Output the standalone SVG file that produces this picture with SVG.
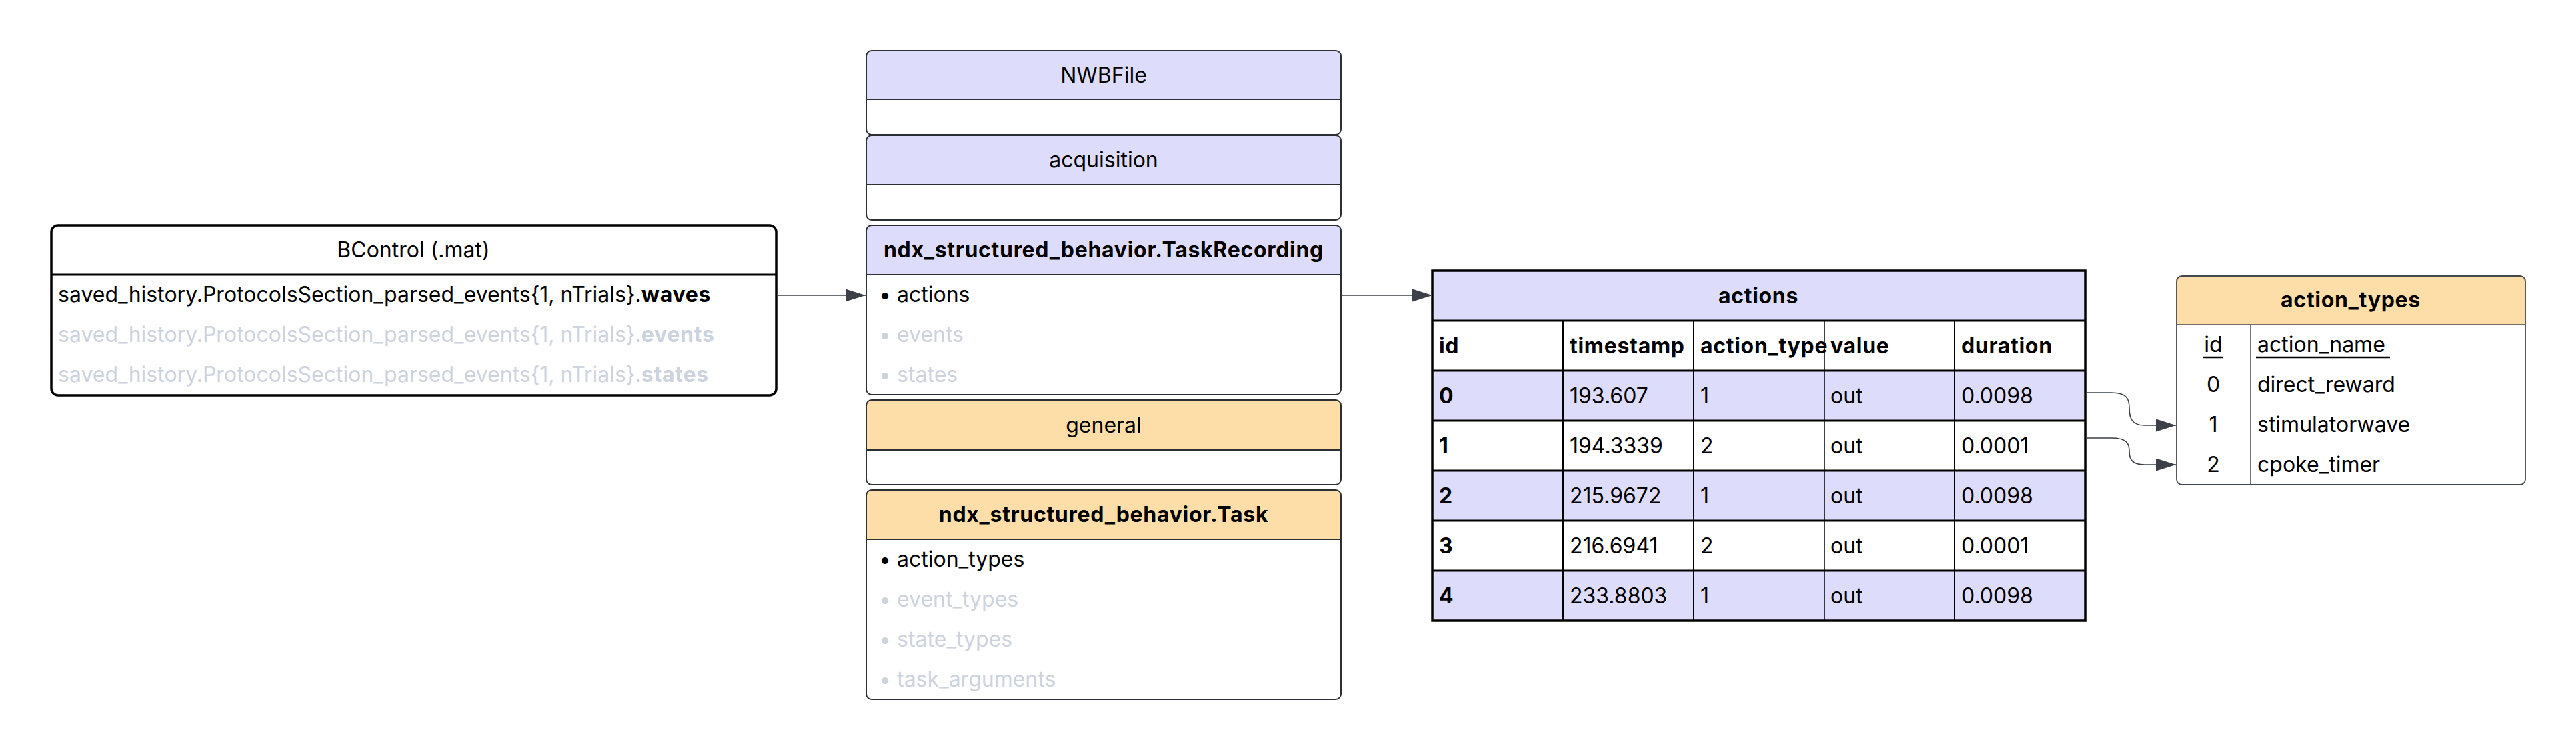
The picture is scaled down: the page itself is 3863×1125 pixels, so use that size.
<svg xmlns="http://www.w3.org/2000/svg" width="3863" height="1125" viewBox="0 0 3863 1125">
<style>
text{font-family:Inter,"Noto Sans","Liberation Sans",sans-serif;font-size:32px;fill:#000}
.c{text-anchor:middle}
.b{font-weight:bold;letter-spacing:0.7px}
.g{fill:#CDD3DD}
.box{stroke:#2c2f34;stroke-width:2;fill:#fff}
.hl{fill:#DDDDFB}
.ho{fill:#FDDEA8}
.sep{stroke:#2c2f34;stroke-width:2}
.tb{stroke:#000;stroke-width:2}
.conn{fill:none;stroke:#3b4049;stroke-width:1.6}
</style>
<defs>
<marker id="arr" viewBox="0 0 30 19" refX="30" refY="9.5" markerWidth="30" markerHeight="19" markerUnits="userSpaceOnUse" orient="auto">
<path d="M0,0 L30,9.5 L0,19 z" fill="#3b4049"/>
</marker>
</defs>
<rect width="3863" height="1125" fill="#fff"/>

<g id="bcontrol">
<rect x="77" y="338" width="1087" height="255" rx="10" fill="#fff" stroke="#000" stroke-width="3.5"/>
<line x1="77" y1="412" x2="1164" y2="412" stroke="#000" stroke-width="3"/>
<text x="620" y="386" class="c">BControl (.mat)</text>
<text x="87" y="453">saved_history.ProtocolsSection_parsed_events{1, nTrials}.<tspan class="b">waves</tspan></text>
<text x="87" y="513" class="g">saved_history.ProtocolsSection_parsed_events{1, nTrials}.<tspan class="b">events</tspan></text>
<text x="87" y="573" class="g">saved_history.ProtocolsSection_parsed_events{1, nTrials}.<tspan class="b">states</tspan></text>
</g>

<g id="nwbfile">
<path d="M1299,149 V84 Q1299,76 1307,76 H2003 Q2011,76 2011,84 V149 Z" class="hl"/>
<rect x="1299" y="76" width="712" height="126" rx="8" class="box" style="fill:none"/>
<line x1="1299" y1="149" x2="2011" y2="149" class="sep"/>
<text x="1655" y="124" class="c">NWBFile</text>
</g>

<g id="acquisition">
<path d="M1299,277 V211 Q1299,203 1307,203 H2003 Q2011,203 2011,211 V277 Z" class="hl"/>
<rect x="1299" y="203" width="712" height="127" rx="8" class="box" style="fill:none"/>
<line x1="1299" y1="277" x2="2011" y2="277" class="sep" stroke-width="1.5"/>
<text x="1655" y="251" class="c">acquisition</text>
</g>

<g id="taskrecording">
<path d="M1299,412 V346 Q1299,338 1307,338 H2003 Q2011,338 2011,346 V412 Z" class="hl"/>
<rect x="1299" y="338" width="712" height="254" rx="8" class="box" style="fill:none"/>
<line x1="1299" y1="412" x2="2011" y2="412" class="sep" stroke-width="1.5"/>
<text x="1655" y="386" class="c b">ndx_structured_behavior.TaskRecording</text>
<text x="1318" y="453">• actions</text>
<text x="1318" y="513" class="g">• events</text>
<text x="1318" y="573" class="g">• states</text>
</g>

<g id="general">
<path d="M1299,675 V608 Q1299,600 1307,600 H2003 Q2011,600 2011,608 V675 Z" class="ho"/>
<rect x="1299" y="600" width="712" height="127" rx="8" class="box" style="fill:none"/>
<line x1="1299" y1="675" x2="2011" y2="675" class="sep"/>
<text x="1655" y="649" class="c">general</text>
</g>

<g id="task">
<path d="M1299,809 V743 Q1299,735 1307,735 H2003 Q2011,735 2011,743 V809 Z" class="ho"/>
<rect x="1299" y="735" width="712" height="314" rx="8" class="box" style="fill:none"/>
<line x1="1299" y1="809" x2="2011" y2="809" class="sep"/>
<text x="1655" y="783" class="c b">ndx_structured_behavior.Task</text>
<text x="1318" y="850">• action_types</text>
<text x="1318" y="910" class="g">• event_types</text>
<text x="1318" y="970" class="g">• state_types</text>
<text x="1318" y="1030" class="g">• task_arguments</text>
</g>

<g id="actions">
<rect x="2148" y="406" width="979" height="75" class="hl"/>
<rect x="2148" y="556" width="979" height="75" class="hl"/>
<rect x="2148" y="706" width="979" height="75" class="hl"/>
<rect x="2148" y="856" width="979" height="75" class="hl"/>
<g class="tb">
<line x1="2148" y1="481" x2="3127" y2="481" stroke-width="3"/>
<line x1="2148" y1="556" x2="3127" y2="556" stroke-width="3"/>
<line x1="2148" y1="631" x2="3127" y2="631" stroke-width="3"/>
<line x1="2148" y1="706" x2="3127" y2="706" stroke-width="3"/>
<line x1="2148" y1="781" x2="3127" y2="781" stroke-width="3"/>
<line x1="2148" y1="856" x2="3127" y2="856" stroke-width="3"/>
<line x1="2344" y1="481" x2="2344" y2="931" stroke-width="2.5"/>
<line x1="2540" y1="481" x2="2540" y2="931" stroke-width="2"/>
<line x1="2736" y1="481" x2="2736" y2="931" stroke-width="1.5"/>
<line x1="2931" y1="481" x2="2931" y2="931" stroke-width="2"/>
</g>
<rect x="2148" y="406" width="979" height="525" fill="none" stroke="#000" stroke-width="3.5"/>
<text x="2637" y="455" class="c b">actions</text>
<g class="b">
<text x="2158" y="530">id</text>
<text x="2354" y="530">timestamp</text>
<text x="2550" y="530">action_type</text>
<text x="2745" y="530">value</text>
<text x="2941" y="530">duration</text>
</g>
<text x="2158" y="605" class="b">0</text><text x="2354" y="605">193.607</text><text x="2550" y="605">1</text><text x="2745" y="605">out</text><text x="2941" y="605">0.0098</text>
<text x="2158" y="680" class="b">1</text><text x="2354" y="680">194.3339</text><text x="2550" y="680">2</text><text x="2745" y="680">out</text><text x="2941" y="680">0.0001</text>
<text x="2158" y="755" class="b">2</text><text x="2354" y="755">215.9672</text><text x="2550" y="755">1</text><text x="2745" y="755">out</text><text x="2941" y="755">0.0098</text>
<text x="2158" y="830" class="b">3</text><text x="2354" y="830">216.6941</text><text x="2550" y="830">2</text><text x="2745" y="830">out</text><text x="2941" y="830">0.0001</text>
<text x="2158" y="905" class="b">4</text><text x="2354" y="905">233.8803</text><text x="2550" y="905">1</text><text x="2745" y="905">out</text><text x="2941" y="905">0.0098</text>
</g>

<g id="action_types">
<path d="M3264,487 V422 Q3264,414 3272,414 H3779 Q3787,414 3787,422 V487 Z" class="ho"/>
<rect x="3264" y="414" width="523" height="313" rx="8" fill="none" stroke="#44484f" stroke-width="1.8"/>
<line x1="3264" y1="487" x2="3787" y2="487" stroke="#44484f" stroke-width="1.5"/>
<line x1="3375" y1="487" x2="3375" y2="727" stroke="#44484f" stroke-width="1.5"/>
<text x="3525" y="461" class="c b">action_types</text>
<text x="3319" y="528" class="c">id</text>
<line x1="3303" y1="536" x2="3334" y2="536" stroke="#000" stroke-width="2.5"/>
<text x="3385" y="528">action_name</text>
<line x1="3383" y1="536" x2="3584" y2="536" stroke="#000" stroke-width="2.5"/>
<text x="3319" y="588" class="c">0</text><text x="3385" y="588">direct_reward</text>
<text x="3319" y="648" class="c">1</text><text x="3385" y="648">stimulatorwave</text>
<text x="3319" y="708" class="c">2</text><text x="3385" y="708">cpoke_timer</text>
</g>

<g id="connectors">
<path class="conn" d="M1166,443 L1298,443" marker-end="url(#arr)"/>
<path class="conn" d="M2012,443 L2148,443" marker-end="url(#arr)"/>
<path class="conn" d="M3129,589 L3166,589 C3189,589 3193,598 3193,612 C3193,629 3198,638 3216,638 L3263,638" marker-end="url(#arr)"/>
<path class="conn" d="M3129,657 L3166,657 C3189,657 3193,665 3193,677 C3193,690 3198,697 3216,697 L3263,697" marker-end="url(#arr)"/>
</g>
</svg>
